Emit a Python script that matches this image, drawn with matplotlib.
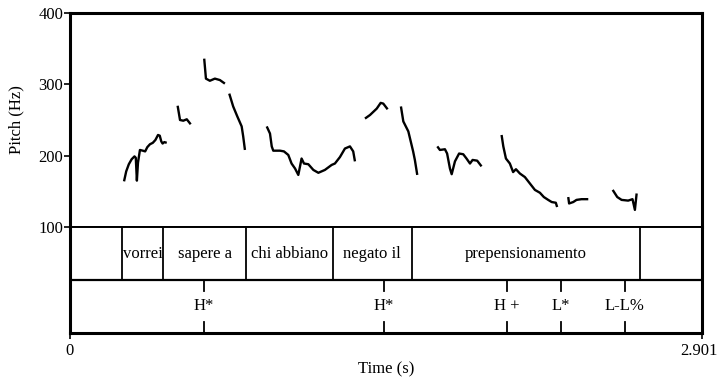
import matplotlib
matplotlib.use("Agg")
import matplotlib.pyplot as plt

plt.rcParams['font.family'] = ['Liberation Serif', 'DejaVu Serif']

# --- data --------------------------------------------------------------
t_end = 2.901
f_min, f_max = 100, 400
f_ticks = [100, 200, 300, 400]

# pitch contour pieces (time in s, pitch in Hz)
seg_t = [
    [0.248, 0.258, 0.270, 0.283, 0.296, 0.302, 0.307, 0.312, 0.321, 0.334, 0.345,
     0.355, 0.367, 0.380, 0.392, 0.404, 0.412, 0.419, 0.425, 0.433, 0.444],
    [0.494, 0.505, 0.520, 0.536, 0.554],
    [0.616, 0.624, 0.642, 0.665, 0.688, 0.711],
    [0.731, 0.749, 0.768, 0.788, 0.795, 0.803],
    [0.903, 0.918, 0.926, 0.933, 0.964, 0.982, 1.002, 1.017, 1.033, 1.048, 1.063,
     1.074, 1.094, 1.117, 1.140, 1.170, 1.201, 1.216, 1.239, 1.262, 1.285, 1.300, 1.308],
    [1.354, 1.377, 1.408, 1.426, 1.438, 1.458],
    [1.519, 1.530, 1.553, 1.575, 1.583, 1.594],
    [1.686, 1.698, 1.721, 1.731, 1.744, 1.752, 1.767, 1.786, 1.805, 1.820, 1.836,
     1.848, 1.869, 1.889],
    [1.981, 1.989, 2.001, 2.019, 2.034, 2.047, 2.065, 2.088, 2.111, 2.134, 2.157,
     2.175, 2.195, 2.211, 2.230, 2.236],
    [2.287, 2.291, 2.310, 2.325, 2.348, 2.379],
    [2.491, 2.512, 2.532, 2.562, 2.582, 2.593, 2.601],
]
seg_f = [
    [164, 178, 188, 195, 199, 197, 165, 190, 208, 207, 206,
     212, 216, 218, 222, 229, 228, 220, 217, 219, 218],
    [270, 250, 249, 251, 244],
    [336, 308, 305, 308, 306, 301],
    [287, 269, 255, 241, 227, 208],
    [241, 231, 213, 207, 207, 206, 201, 189, 182, 173, 196,
     189, 188, 180, 176, 180, 187, 189, 198, 210, 213, 206, 192],
    [252, 257, 266, 274, 273, 265],
    [269, 248, 234, 206, 194, 173],
    [213, 208, 209, 203, 182, 174, 192, 203, 202, 196, 189,
     194, 193, 185],
    [229, 213, 196, 189, 177, 181, 175, 170, 161, 152, 148,
     142, 138, 135, 134, 128],
    [142, 133, 135, 138, 139, 139],
    [152, 142, 138, 137, 139, 124, 147],
]

# words tier
word_bounds = [0.237, 0.428, 0.808, 1.206, 1.568, 2.616]
word_labels = ["vorrei", "sapere a", "chi abbiano", "negato il", "prepensionamento"]

# tones tier
tone_times = [0.615, 1.441, 2.006, 2.253, 2.547]
tone_labels = ["H*", "H*", "H +", "L*", "L-L%"]

# --- figure ------------------------------------------------------------
W, H = 718, 378
fig = plt.figure(figsize=(W / 100, H / 100), dpi=100)

x0, x1 = 70, 702
y_top, y_mid, y_bot = 13, 227, 333
ax = fig.add_axes([x0 / W, (H - y_mid) / H, (x1 - x0) / W, (y_mid - y_top) / H])
tg = fig.add_axes([x0 / W, (H - y_bot) / H, (x1 - x0) / W, (y_bot - y_mid) / H])

fs = 12
frame_lw = 2.2

# pitch panel
for ts, fsv in zip(seg_t, seg_f):
    ax.plot(ts, fsv, color='black', lw=1.7, solid_capstyle='butt')
ax.set_xlim(0, t_end)
ax.set_ylim(f_min, f_max)
ax.set_xticks([])
ax.set_yticks(f_ticks)
ax.set_yticklabels([str(v) for v in f_ticks], fontsize=fs)
ax.tick_params(axis='y', direction='out', length=4, width=1.2, pad=1)
ax.set_ylabel("Pitch (Hz)", fontsize=fs, labelpad=10)
for sp in ax.spines.values():
    sp.set_linewidth(frame_lw)
ax.spines['bottom'].set_linewidth(1.4)

# text grid panel
tg.set_xlim(0, t_end)
tg.set_ylim(0, 2)
tg.set_yticks([])
tg.set_xticks([0, t_end])
tg.set_xticklabels(["0", "2.901"], fontsize=fs)
tg.get_xticklabels()[1].set_horizontalalignment('right')
tg.get_xticklabels()[1].set_x(t_end)
tg.tick_params(axis='x', direction='out', length=4, width=1.2, pad=3)
for lbl in tg.get_xticklabels()[1:]:
    lbl.set_transform(lbl.get_transform() + matplotlib.transforms.ScaledTranslation(0.16, 0, fig.dpi_scale_trans))
tg.set_xlabel("Time (s)", fontsize=fs, labelpad=2)
for sp in tg.spines.values():
    sp.set_linewidth(frame_lw)
tg.spines['top'].set_linewidth(1.4)
tg.axhline(1, color='black', lw=1.6)

for b in word_bounds:
    tg.plot([b, b], [1, 2], color='black', lw=1.3)
for a, b, lab in zip(word_bounds[:-1], word_bounds[1:], word_labels):
    tg.text((a + b) / 2, 1.5, lab, ha='center', va='center', fontsize=fs)

for t, lab in zip(tone_times, tone_labels):
    tg.plot([t, t], [1, 0.8], color='black', lw=1.3)
    tg.plot([t, t], [0, 0.2], color='black', lw=1.3)
    tg.text(t, 0.5, lab, ha='center', va='center', fontsize=fs)

fig.savefig("out.png", dpi=100)
